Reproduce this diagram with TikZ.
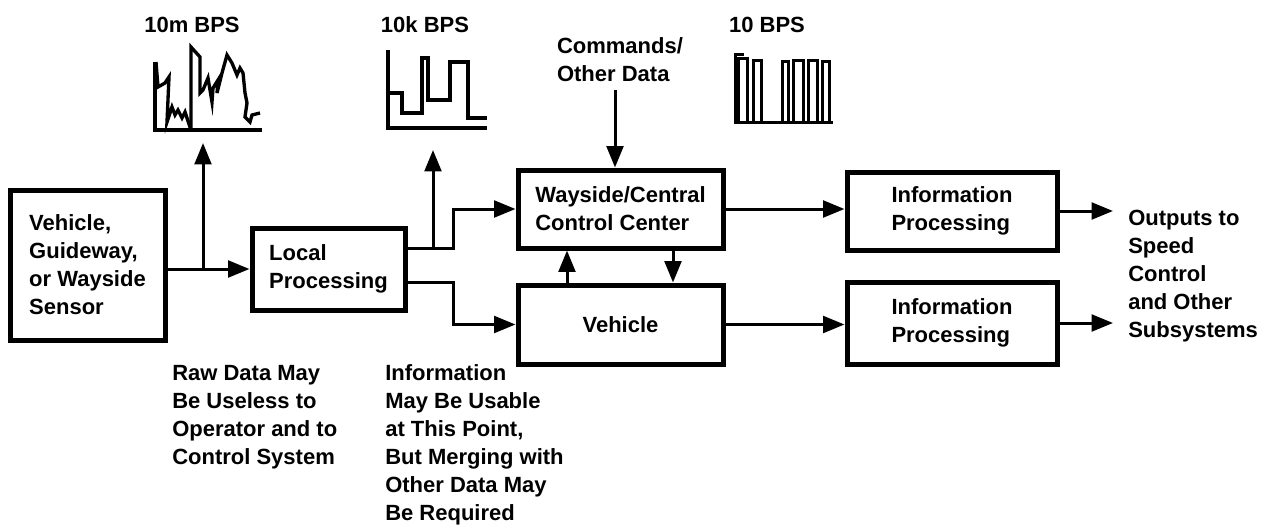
\documentclass[tikz,border=0pt]{standalone}
\usepackage{fontspec}
\setmainfont{Liberation Sans}
\usetikzlibrary{arrows.meta,calc}

\begin{document}
\begin{tikzpicture}[x=0.75pt,y=-0.75pt,
  every node/.style={font=\bfseries\fontsize{16.5}{21}\selectfont, inner sep=0pt},
  block/.style={draw, line width=3.75pt, align=left},
  link/.style={line width=2.25pt, -{Triangle[length=16pt,width=12.5pt]}},
  trace/.style={line width=2.5pt, line join=miter},
  pulse/.style={line width=2.25pt, line join=miter},
  lbl/.style={align=left, anchor=west}]
\useasboundingbox (0,0) rectangle (1283,532);

% processing chain
\node[block, minimum width=116.25pt, minimum height=112.5pt] (sensor) at (87.5,265)
  {Vehicle,\\Guideway,\\or Wayside\\Sensor};
\node[block, minimum width=114.75pt, minimum height=61.5pt] (local) at (328.5,269)
  {Local\\Processing};
\node[block, minimum width=153.75pt, minimum height=58.5pt] (wc) at (620.5,209)
  {Wayside/Central\\Control Center};
\node[block, minimum width=153.75pt, minimum height=59.25pt] (veh) at (620.5,324.5)
  {Vehicle};
\node[block, minimum width=157.5pt, minimum height=58.5pt] (ip1) at (952,211)
  {Information\\Processing};
\node[block, minimum width=157.5pt, minimum height=61.5pt] (ip2) at (952,323)
  {Information\\Processing};

% free texts
\node[align=left] (cmd) at (620,60) {Commands/\\Other Data};
\node[lbl] (outs) at (1128,276) {Outputs to\\Speed\\Control\\and Other\\Subsystems};
\node[lbl] (raw) at (172,417) {Raw Data May\\Be Useless to\\Operator and to\\Control System};
\node[lbl] (inf) at (385,445) {Information\\May Be Usable\\at This Point,\\But Merging with\\Other Data May\\Be Required};

% data-rate labels
\node (r1) at (192,25) {10m BPS};
\node (r2) at (425,25) {10k BPS};
\node (r3) at (767,25) {10 BPS};

% waveform sketches
\draw[trace] (155,62) -- (155,130) -- (262,130);
\draw[trace] (156,62) -- (158,87) -- (165,83) -- (169,77) -- (167,122) -- (172,107)
  -- (175,115) -- (178,110) -- (182,118) -- (185,112) -- (190,127) -- (191,130);
\draw[trace] (191,130) -- (191,47) -- (200,57) -- (200,93) -- (203,90) -- (208,78)
  -- (212,102) -- (213,88) -- (218,80) -- (217,93) -- (222,73) -- (227,55)
  -- (232,63) -- (237,75) -- (240,68) -- (243,73) -- (245,93) -- (247,103)
  -- (245,117) -- (250,122) -- (252,115) -- (260,113);

\draw[trace] (388,50) -- (388,128) -- (487,128);
\draw[trace] (388,93) -- (402,93) -- (402,113) -- (422,113) -- (422,58) -- (428,58)
  -- (428,100) -- (450,100) -- (450,62) -- (468,62) -- (468,118) -- (487,118);

\draw[pulse] (735,53) -- (735,122) -- (833,122);
\draw[pulse] (735,54) -- (744,54);
\foreach \a/\b/\t in {738/747/58, 753/761/60, 782/788/61, 793/803/60, 808/817/60, 822/829/61}
  \draw[pulse] (\a,122) -- (\a,\t) -- (\b,\t) -- (\b,122);

% connector anchors
\coordinate (c1) at (203,143);
\coordinate (c2) at (433,150);
\coordinate (j1) at (453,0);
\coordinate (xa) at (567,0);
\coordinate (xb) at (673,0);
\coordinate (xc) at (615,90);
\coordinate (o1) at (1113,0);
\coordinate (lo) at ($(local.east)+(0,-21)$);
\coordinate (lu) at ($(local.east)+(0,13)$);

% connectors
\draw[link] (sensor.east |- local.west) -- (local.west);
\draw[link] (c1 |- local.west) -- (c1);
\draw[link] (lo) -| (j1 |- wc.west) -- (wc.west);
\draw[link] (c2 |- lo) -- (c2);
\draw[link] (lu) -| (j1 |- veh.west) -- (veh.west);
\draw[link] (xa |- veh.north) -- (xa |- wc.south);
\draw[link] (xb |- wc.south) -- (xb |- veh.north);
\draw[link] (xc |- cmd.south) ++(0,8) -- (xc |- wc.north);
\draw[link] (wc.east) -- (wc.east -| ip1.west);
\draw[link] (ip1.east) -- (o1 |- ip1.east);
\draw[link] (veh.east) -- (veh.east -| ip2.west);
\draw[link] (ip2.east) -- (o1 |- ip2.east);
\end{tikzpicture}
\end{document}
